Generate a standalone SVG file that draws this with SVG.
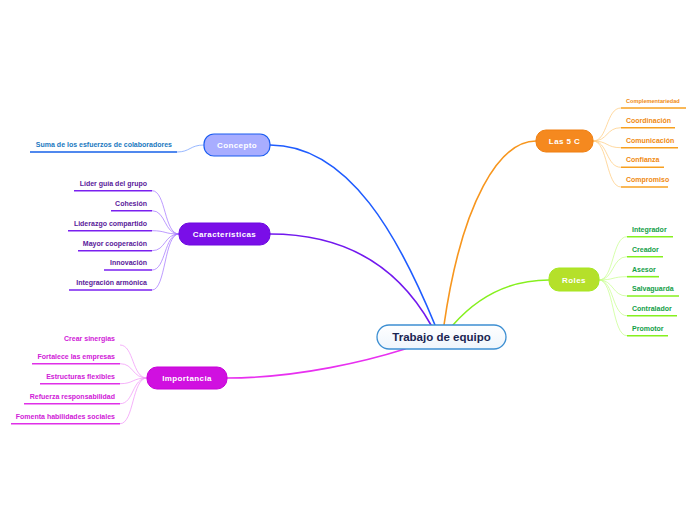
<svg xmlns="http://www.w3.org/2000/svg" width="696" height="520" viewBox="0 0 696 520">
<defs>
<linearGradient id="cg" x1="0" y1="0" x2="0" y2="1"><stop offset="0" stop-color="#ffffff"/><stop offset="1" stop-color="#eef5fc"/></linearGradient>
</defs>
<style>
text{font-family:"Liberation Sans",Arial,sans-serif;font-weight:bold}
.nt{font-size:8px;fill:#fff;letter-spacing:0.4px;text-anchor:middle}
.lf{font-size:7px}
.r{text-anchor:end}
.main{fill:none;stroke-width:1.6;stroke-linecap:round}
.sub{fill:none;stroke-width:0.7}
.ul{stroke-width:1.6}
</style>
<rect width="696" height="520" fill="#fff"/>
<g id="connectors">
<path class="main" stroke="#1f5cff" d="M270,145 C350,145 400,240 435,325"/>
<path class="main" stroke="#7218ee" d="M270,234 C350,234 400,270 431,325"/>
<path class="main" stroke="#f7961e" d="M536,141 C500,141 462,200 444,325"/>
<path class="main" stroke="#86f01e" d="M549,280 C505,280 475,300 453,325"/>
<path class="main" stroke="#e830f0" d="M227,378 C300,378 370,360 405,349"/>
<g stroke="#6a98ff" class="sub"><path d="M204,145 C190,145 190,152 177,152"/></g>
<g stroke="#a070ff" class="sub">
<path d="M179,234 C164,234 166,190.7 152,190.7"/>
<path d="M179,234 C164,234 166,210.7 152,210.7"/>
<path d="M179,234 C164,234 166,230.7 152,230.7"/>
<path d="M179,234 C164,234 166,250.7 152,250.7"/>
<path d="M179,234 C164,234 166,270 152,270"/>
<path d="M179,234 C164,234 166,290 152,290"/>
</g>
<g stroke="#f090f8" class="sub">
<path d="M147,378 C132,378 134,345 120,345"/>
<path d="M147,378 C132,378 134,363.7 120,363.7"/>
<path d="M147,378 C132,378 134,383.7 120,383.7"/>
<path d="M147,378 C132,378 134,403.7 120,403.7"/>
<path d="M147,378 C132,378 134,423.7 120,423.7"/>
</g>
<g stroke="#ffc878" class="sub">
<path d="M593,141 C608,141 606,108 621,108"/>
<path d="M593,141 C608,141 606,127.7 621,127.7"/>
<path d="M593,141 C608,141 606,147.7 621,147.7"/>
<path d="M593,141 C608,141 606,167.3 621,167.3"/>
<path d="M593,141 C608,141 606,187 621,187"/>
</g>
<g stroke="#c4ff88" class="sub">
<path d="M599,280 C614,280 612,236.7 627,236.7"/>
<path d="M599,280 C614,280 612,256.7 627,256.7"/>
<path d="M599,280 C614,280 612,276.7 627,276.7"/>
<path d="M599,280 C614,280 612,296 627,296"/>
<path d="M599,280 C614,280 612,315.7 627,315.7"/>
<path d="M599,280 C614,280 612,335.7 627,335.7"/>
</g>
</g>
<g id="center">
<rect x="377" y="325" width="129" height="24" rx="12" fill="url(#cg)" stroke="#3d8fd2" stroke-width="1.3"/>
<text x="441.5" y="341" font-size="11.5" fill="#1a2552" text-anchor="middle">Trabajo de equipo</text>
</g>
<g id="concepto">
<rect x="204" y="134" width="66" height="22" rx="10" fill="#a8adff" stroke="#1a5cf0" stroke-width="1.2"/>
<text class="nt" x="237" y="148">Concepto</text>
</g>
<g id="concepto-1">
<line class="ul" x1="30" y1="152" x2="177" y2="152" stroke="#1660e8"/>
<text class="lf r" x="172" y="147" fill="#1a78c0">Suma de los esfuerzos de colaboradores</text>
</g>
<g id="caracteristicas">
<rect x="179" y="223" width="91" height="22" rx="10" fill="#7a0ee8" stroke="#6c08e0" stroke-width="1"/>
<text class="nt" x="224.5" y="237">Características</text>
</g>
<g fill="#5a1a9a">
<g id="car-1"><line class="ul" x1="74" y1="190.7" x2="152" y2="190.7" stroke="#7a20f0"/><text class="lf r" x="147" y="186">Líder guía del grupo</text></g>
<g id="car-2"><line class="ul" x1="111" y1="210.7" x2="152" y2="210.7" stroke="#7a20f0"/><text class="lf r" x="147" y="206">Cohesión</text></g>
<g id="car-3"><line class="ul" x1="68" y1="230.7" x2="152" y2="230.7" stroke="#7a20f0"/><text class="lf r" x="147" y="226">Liderazgo compartido</text></g>
<g id="car-4"><line class="ul" x1="78" y1="250.7" x2="152" y2="250.7" stroke="#7a20f0"/><text class="lf r" x="147" y="246">Mayor cooperación</text></g>
<g id="car-5"><line class="ul" x1="104" y1="270" x2="152" y2="270" stroke="#7a20f0"/><text class="lf r" x="147" y="265.3">Innovación</text></g>
<g id="car-6"><line class="ul" x1="69" y1="290" x2="152" y2="290" stroke="#7a20f0"/><text class="lf r" x="147" y="285.3">Integración armónica</text></g>
</g>
<g id="importancia">
<rect x="147" y="367" width="80" height="22" rx="10" fill="#d010e0" stroke="#c800d8" stroke-width="1"/>
<text class="nt" x="187" y="381">Importancia</text>
</g>
<g fill="#d020d8">
<g id="imp-1"><text class="lf r" x="115" y="340.5">Crear sinergias</text></g>
<g id="imp-2"><line class="ul" x1="32" y1="363.7" x2="120" y2="363.7" stroke="#e030e8"/><text class="lf r" x="115" y="359">Fortalece las empresas</text></g>
<g id="imp-3"><line class="ul" x1="40" y1="383.7" x2="120" y2="383.7" stroke="#e030e8"/><text class="lf r" x="115" y="379">Estructuras flexibles</text></g>
<g id="imp-4"><line class="ul" x1="24" y1="403.7" x2="120" y2="403.7" stroke="#e030e8"/><text class="lf r" x="115" y="399">Refuerza responsabilidad</text></g>
<g id="imp-5"><line class="ul" x1="11" y1="423.7" x2="120" y2="423.7" stroke="#e030e8"/><text class="lf r" x="115" y="419">Fomenta habilidades sociales</text></g>
</g>
<g id="las5c">
<rect x="536" y="130" width="57" height="22" rx="10" fill="#f5891f" stroke="#f07f10" stroke-width="1"/>
<text class="nt" x="564.5" y="144">Las 5 C</text>
</g>
<g fill="#f08a10">
<g id="c-1"><line class="ul" x1="621" y1="108" x2="686" y2="108" stroke="#f7a020"/><text x="626" y="103" font-size="5.6">Complementariedad</text></g>
<g id="c-2"><line class="ul" x1="621" y1="127.7" x2="675" y2="127.7" stroke="#f7a020"/><text class="lf" x="626" y="122.8">Coordinación</text></g>
<g id="c-3"><line class="ul" x1="621" y1="147.7" x2="678" y2="147.7" stroke="#f7a020"/><text class="lf" x="626" y="142.8">Comunicación</text></g>
<g id="c-4"><line class="ul" x1="621" y1="167.3" x2="664" y2="167.3" stroke="#f7a020"/><text class="lf" x="626" y="162.4">Confianza</text></g>
<g id="c-5"><line class="ul" x1="621" y1="187" x2="668" y2="187" stroke="#f7a020"/><text class="lf" x="626" y="182.1">Compromiso</text></g>
</g>
<g id="roles">
<rect x="549" y="268" width="50" height="23" rx="10" fill="#b5e02a" stroke="#a4e81e" stroke-width="1"/>
<text class="nt" x="574" y="282.5">Roles</text>
</g>
<g fill="#12a048">
<g id="r-1"><line class="ul" x1="627" y1="236.7" x2="673" y2="236.7" stroke="#86f01e"/><text class="lf" x="632" y="231.8">Integrador</text></g>
<g id="r-2"><line class="ul" x1="627" y1="256.7" x2="663" y2="256.7" stroke="#86f01e"/><text class="lf" x="632" y="251.8">Creador</text></g>
<g id="r-3"><line class="ul" x1="627" y1="276.7" x2="659" y2="276.7" stroke="#86f01e"/><text class="lf" x="632" y="271.8">Asesor</text></g>
<g id="r-4"><line class="ul" x1="627" y1="296" x2="679" y2="296" stroke="#86f01e"/><text class="lf" x="632" y="291.1">Salvaguarda</text></g>
<g id="r-5"><line class="ul" x1="627" y1="315.7" x2="677" y2="315.7" stroke="#86f01e"/><text class="lf" x="632" y="310.8">Contralador</text></g>
<g id="r-6"><line class="ul" x1="627" y1="335.7" x2="668" y2="335.7" stroke="#86f01e"/><text class="lf" x="632" y="330.8">Promotor</text></g>
</g>
</svg>
